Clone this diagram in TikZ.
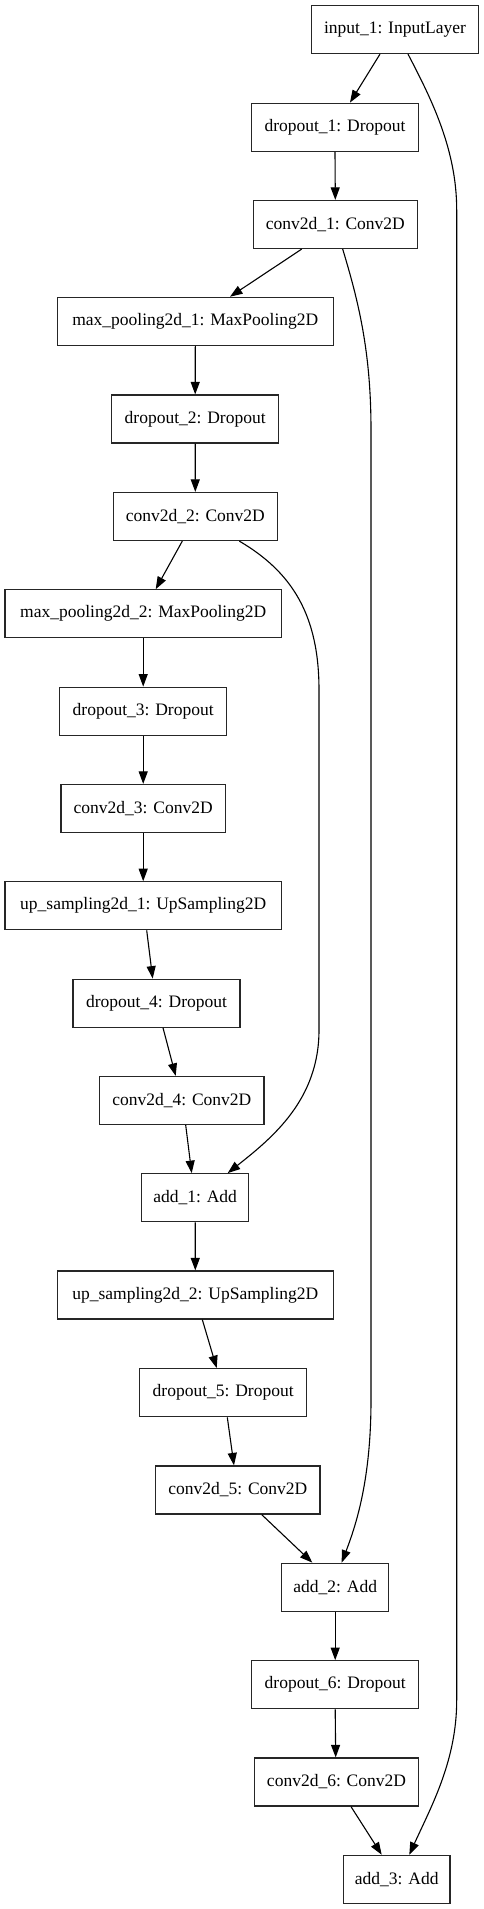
\documentclass[tikz,border=0pt]{standalone}
\usepackage{fontspec}
\setmainfont{Liberation Serif}
\usetikzlibrary{arrows.meta}
\begin{document}
\begin{tikzpicture}[x=1pt,y=-1pt,
  box/.style={draw=black!85, line width=1.2pt, minimum height=48pt, inner sep=1pt,
    font=\fontsize{17.5}{20}\selectfont},
  edge/.style={line width=1.1pt, -{Triangle[length=12.5pt,width=9pt]}}]
\useasboundingbox (0,0) rectangle (484,1909);
\fill[white] (0,0) rectangle (484,1909);
\node[box, minimum width=166.6pt] (in) at (395,29.5) {input\_1: InputLayer};
\node[box, minimum width=166.6pt] (d1) at (335,127.2) {dropout\_1: Dropout};
\node[box, minimum width=164pt] (c1) at (335.3,224.5) {conv2d\_1: Conv2D};
\node[box, minimum width=276pt] (mp1) at (195.3,321.3) {max\_pooling2d\_1: MaxPooling2D};
\node[box, minimum width=167pt] (d2) at (195.2,419) {dropout\_2: Dropout};
\node[box, minimum width=164pt] (c2) at (195.3,516.5) {conv2d\_2: Conv2D};
\node[box, minimum width=276.3pt] (mp2) at (143.2,613.8) {max\_pooling2d\_2: MaxPooling2D};
\node[box, minimum width=167pt] (d3) at (143.2,711.2) {dropout\_3: Dropout};
\node[box, minimum width=164.3pt] (c3) at (143.2,808.5) {conv2d\_3: Conv2D};
\node[box, minimum width=276.3pt] (up1) at (143.2,905.8) {up\_sampling2d\_1: UpSampling2D};
\node[box, minimum width=167pt] (d4) at (156.5,1003.2) {dropout\_4: Dropout};
\node[box, minimum width=164.3pt] (c4) at (181.8,1100.5) {conv2d\_4: Conv2D};
\node[box, minimum width=107pt] (a1) at (195.2,1197.7) {add\_1: Add};
\node[box, minimum width=276pt] (up2) at (195.3,1295) {up\_sampling2d\_2: UpSampling2D};
\node[box, minimum width=167pt] (d5) at (223.2,1392.7) {dropout\_5: Dropout};
\node[box, minimum width=164.3pt] (c5) at (237.8,1490) {conv2d\_5: Conv2D};
\node[box, minimum width=107pt] (a2) at (335.2,1587.2) {add\_2: Add};
\node[box, minimum width=167pt] (d6) at (335.2,1684.7) {dropout\_6: Dropout};
\node[box, minimum width=164.3pt] (c6) at (336.5,1782) {conv2d\_6: Conv2D};
\node[box, minimum width=106.7pt] (a3) at (396.7,1879.3) {add\_3: Add};

\draw[edge] ([xshift=-15pt]in.south) -- ([xshift=15pt]d1.north);
\draw[edge] ([xshift=13pt]in.south) .. controls (432,100) and (456.7,150) .. (456.7,210)
  -- (456.7,1700) .. controls (456.7,1760) and (432,1805) .. ([xshift=12.6pt]a3.north);
\draw[edge] (d1.south) -- (c1.north);
\draw[edge] ([xshift=-33.6pt]c1.south) -- ([xshift=34.7pt]mp1.north);
\draw[edge] ([xshift=7.4pt]c1.south) .. controls (358,300) and (371,350) .. (371,430)
  -- (371,1400) .. controls (371,1480) and (356,1525) .. ([xshift=6.5pt]a2.north);
\draw[edge] (mp1.south) -- (d2.north);
\draw[edge] (d2.south) -- (c2.north);
\draw[edge] ([xshift=-13pt]c2.south) -- ([xshift=12.5pt]mp2.north);
\draw[edge] ([xshift=44pt]c2.south) .. controls (292,572) and (319,615) .. (319,690)
  -- (319,1030) .. controls (319,1100) and (272,1138) .. ([xshift=32.5pt]a1.north);
\draw[edge] (mp2.south) -- (d3.north);
\draw[edge] (d3.south) -- (c3.north);
\draw[edge] (c3.south) -- (up1.north);
\draw[edge] ([xshift=3.5pt]up1.south) -- ([xshift=-3.8pt]d4.north);
\draw[edge] ([xshift=6.5pt]d4.south) -- ([xshift=-6.1pt]c4.north);
\draw[edge] ([xshift=3.9pt]c4.south) -- ([xshift=-3.5pt]a1.north);
\draw[edge] (a1.south) -- (up2.north);
\draw[edge] ([xshift=7pt]up2.south) -- ([xshift=-6.5pt]d5.north);
\draw[edge] ([xshift=4.1pt]d5.south) -- ([xshift=-3.8pt]c5.north);
\draw[edge] ([xshift=23.9pt]c5.south) -- ([xshift=-22.9pt]a2.north);
\draw[edge] (a2.south) -- (d6.north);
\draw[edge] (d6.south) -- ([xshift=-0.8pt]c6.north);
\draw[edge] ([xshift=14.5pt]c6.south) -- ([xshift=-15pt]a3.north);
\end{tikzpicture}
\end{document}
